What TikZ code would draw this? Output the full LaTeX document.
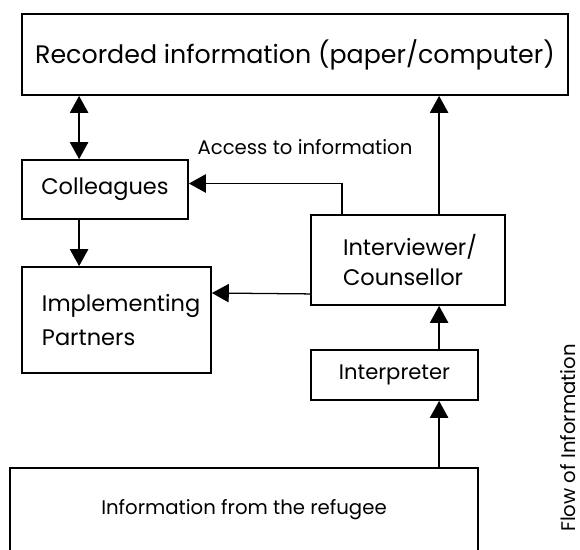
\documentclass[tikz,border=0pt]{standalone}
\usepackage{fontspec}
\setmainfont{Poppins}
\usetikzlibrary{arrows.meta,calc}

\begin{document}
\begin{tikzpicture}[x=0.025cm, y=-0.025cm,
    box/.style={draw, line width=1.3pt, minimum width=#1},
    flow/.style={line width=0.9pt, -{Triangle[width=13pt,length=12pt]}},
    twoway/.style={line width=0.9pt, {Triangle[width=13pt,length=12pt]}-{Triangle[width=13pt,length=12pt]}}]
  \clip (0,0) rectangle (580,549);
  \node[box=546*0.025cm, minimum height=81*0.025cm, font=\fontsize{18}{20}\selectfont] (rec) at (295,54.5) {Recorded information (paper/computer)};
  \node[box=166*0.025cm, minimum height=59*0.025cm, font=\fontsize{16}{20}\selectfont] (coll) at (105,189.5) {Colleagues};
  \node[box=189*0.025cm, minimum height=106*0.025cm, align=left, text width=149*0.025cm, font=\fontsize{16}{24}\selectfont] (impl) at (116.5,320) {Implementing\\Partners};
  \node[box=194*0.025cm, minimum height=90*0.025cm, align=left, text width=130*0.025cm, font=\fontsize{16}{22}\selectfont] (intv) at (408,260) {Interviewer/\\Counsellor};
  \node[box=167*0.025cm, minimum height=50*0.025cm, font=\fontsize{15}{20}\selectfont] (interp) at (394.5,375) {Interpreter};
  \node[box=468*0.025cm, minimum height=84*0.025cm, font=\fontsize{14}{20}\selectfont] (refugee) at (244,510) {Information from the refugee};
  \node[font=\fontsize{14}{18}\selectfont] (access) at (305,147) {Access to information};
  \node[rotate=90, anchor=base, font=\fontsize{14}{18}\selectfont] (flowlabel) at (575,438) {Flow of Information};

  \draw[twoway] ($(coll.north west)+(58,0)$) -- ($(rec.south west)+(58,0)$);
  \draw[flow] ($(coll.south west)+(58,0)$) -- ($(impl.north west)+(58,0)$);
  \draw[flow] ($(intv.north west)+(32,0)$) |- ($(coll.east)+(0,-6)$);
  \draw[flow] ($(intv.south west)+(0,-12)$) -- ($(impl.east)+(0,-27)$);
  \draw[flow] ($(intv.north west)+(129,0)$) -- ($(rec.south west)+(418,0)$);
  \draw[flow] ($(interp.north west)+(129,0)$) -- ($(intv.south west)+(129,0)$);
  \draw[flow] ($(refugee.north west)+(430,0)$) -- ($(interp.south west)+(129,0)$);
\end{tikzpicture}
\end{document}
